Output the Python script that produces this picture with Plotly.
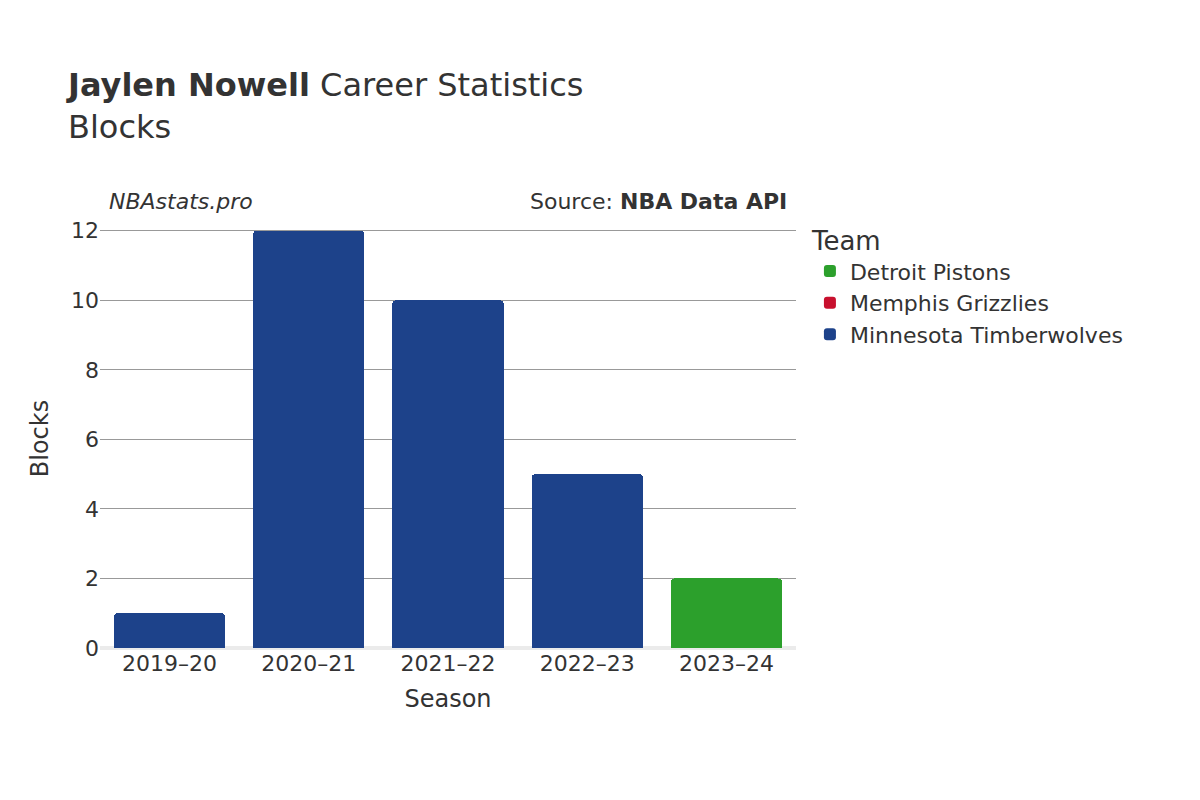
import plotly.graph_objects as go

seasons = ["2019–20", "2020–21", "2021–22", "2022–23", "2023–24"]
min_seasons = ["2019–20", "2020–21", "2021–22", "2022–23"]
min_blocks = [1, 12, 10, 5]
mem_seasons = ["2023–24"]
mem_blocks = [0]
det_seasons = ["2023–24"]
det_blocks = [2]

fig = go.Figure()
fig.add_bar(x=min_seasons, y=min_blocks, name="Minnesota Timberwolves", marker_color="#1d428a")
fig.add_bar(x=mem_seasons, y=mem_blocks, name="Memphis Grizzlies", marker_color="#c8102e")
fig.add_bar(x=det_seasons, y=det_blocks, name="Detroit Pistons", marker_color="#2ca02c")
fig.update_traces(marker_cornerradius=4, marker_line_width=0)

fig.update_layout(
    width=1200, height=800, barmode="stack", bargap=0.2,
    font=dict(family="DejaVu Sans", size=20, color="#333"),
    plot_bgcolor="white", paper_bgcolor="white",
    margin=dict(l=92, r=412, t=221, b=160),
    title=dict(text="<b>Jaylen Nowell</b> Career Statistics<br>Blocks", x=0.05, xanchor="left",
               y=0.89, yanchor="top", font=dict(size=32, color="#333")),
    legend=dict(title=dict(text="Team", font=dict(size=26)), x=1.02, y=1.03, yanchor="top",
                font=dict(size=22), itemsizing="constant"),
    xaxis=dict(title=dict(text="Season", font=dict(size=24)), categoryorder="array",
               categoryarray=seasons, tickfont=dict(size=22), showgrid=False),
    yaxis=dict(title=dict(text="Blocks", font=dict(size=24)), range=[0, 12.05], tickvals=[0,2,4,6,8,10,12],
               tickfont=dict(size=22), gridcolor="#999", gridwidth=1,
               zeroline=True, zerolinecolor="#ebebeb", zerolinewidth=4),
    annotations=[
        dict(text="<i>NBAstats.pro</i>", xref="paper", yref="paper", x=0.01, y=1.03,
             xanchor="left", yanchor="bottom", showarrow=False, font=dict(size=22)),
        dict(text="Source: <b>NBA Data API</b>", xref="paper", yref="paper", x=0.99, y=1.03,
             xanchor="right", yanchor="bottom", showarrow=False, font=dict(size=22)),
    ],
)
fig.write_html("out.html")
